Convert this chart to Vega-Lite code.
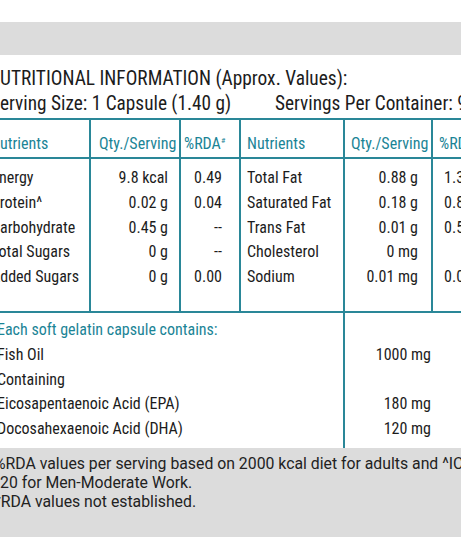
{
  "$schema": "https://vega.github.io/schema/vega-lite/v6.json",
  "width": 461,
  "height": 553,
  "autosize": {"type": "none"},
  "padding": 0,
  "background": "#ffffff",
  "config": {"view": {"stroke": null}, "text": {"font": "Roboto Condensed", "baseline": "alphabetic"}},
  "datasets": {
    "cells": [
      {"r": 2, "c": 0, "t": "NUTRITIONAL INFORMATION (Approx. Values):", "g": "title"},
      {"r": 3, "c": 1, "t": "Serving Size: 1 Capsule (1.40 g)", "g": "sub"},
      {"r": 3, "c": 14, "t": "Servings Per Container: 90", "g": "sub"},
      {"r": 5, "c": 1, "t": "Nutrients", "g": "head"},
      {"r": 5, "c": 7, "t": "Qty./Serving", "g": "head"},
      {"r": 5, "c": 10, "t": "%RDA", "g": "head"},
      {"r": 5, "c": 10, "t": "#", "g": "sup"},
      {"r": 5, "c": 13, "t": "Nutrients", "g": "head"},
      {"r": 5, "c": 16, "t": "Qty./Serving", "g": "head"},
      {"r": 5, "c": 20, "t": "%RDA", "g": "head"},
      {"r": 5, "c": 20, "t": "#", "g": "sup"},
      {"r": 7, "c": 2, "t": "Energy", "g": "left"},
      {"r": 7, "c": 8, "t": "9.8 kcal", "g": "right"},
      {"r": 7, "c": 11, "t": "0.49", "g": "right"},
      {"r": 8, "c": 2, "t": "Protein^", "g": "left"},
      {"r": 8, "c": 8, "t": "0.02 g", "g": "right"},
      {"r": 8, "c": 11, "t": "0.04", "g": "right"},
      {"r": 9, "c": 2, "t": "Carbohydrate", "g": "left"},
      {"r": 9, "c": 8, "t": "0.45 g", "g": "right"},
      {"r": 9, "c": 11, "t": "--", "g": "right"},
      {"r": 10, "c": 2, "t": "Total Sugars", "g": "left"},
      {"r": 10, "c": 8, "t": "0 g", "g": "right"},
      {"r": 10, "c": 11, "t": "--", "g": "right"},
      {"r": 11, "c": 2, "t": "Added Sugars", "g": "left"},
      {"r": 11, "c": 8, "t": "0 g", "g": "right"},
      {"r": 11, "c": 11, "t": "0.00", "g": "right"},
      {"r": 7, "c": 13, "t": "Total Fat", "g": "left"},
      {"r": 7, "c": 17, "t": "0.88 g", "g": "right"},
      {"r": 7, "c": 22, "t": "1.31", "g": "right"},
      {"r": 8, "c": 13, "t": "\u00a0Saturated Fat", "g": "left"},
      {"r": 8, "c": 17, "t": "0.18 g", "g": "right"},
      {"r": 8, "c": 22, "t": "0.82", "g": "right"},
      {"r": 9, "c": 13, "t": "\u00a0Trans Fat", "g": "left"},
      {"r": 9, "c": 17, "t": "0.01 g", "g": "right"},
      {"r": 9, "c": 22, "t": "0.50", "g": "right"},
      {"r": 10, "c": 13, "t": "\u00a0Cholesterol", "g": "left"},
      {"r": 10, "c": 17, "t": "0 mg", "g": "right"},
      {"r": 10, "c": 22, "t": "--", "g": "right"},
      {"r": 11, "c": 13, "t": "Sodium", "g": "left"},
      {"r": 11, "c": 17, "t": "0.01 mg", "g": "right"},
      {"r": 11, "c": 22, "t": "0.00", "g": "right"},
      {"r": 13, "c": 4, "t": "Each soft gelatin capsule contains:", "g": "head"},
      {"r": 14, "c": 4, "t": "Fish Oil", "g": "left"},
      {"r": 14, "c": 18, "t": "1000 mg", "g": "right"},
      {"r": 15, "c": 4, "t": "Containing", "g": "left"},
      {"r": 16, "c": 4, "t": "Eicosapentaenoic Acid (EPA)", "g": "left"},
      {"r": 16, "c": 18, "t": "180 mg", "g": "right"},
      {"r": 17, "c": 4, "t": "Docosahexaenoic Acid (DHA)", "g": "left"},
      {"r": 17, "c": 18, "t": "120 mg", "g": "right"},
      {"r": 19, "c": 3, "t": "%RDA values per serving based on 2000 kcal diet for adults and ^ICMR", "g": "foot"},
      {"r": 20, "c": 5, "t": "20 for Men-Moderate Work.", "g": "foot"},
      {"r": 21, "c": 3, "t": "*RDA values not established.", "g": "foot"}
    ],
    "bands": [
      {"part": "top", "c0": 5, "c1": 21, "r0": 0, "r1": 1},
      {"part": "footnote", "c0": 5, "c1": 21, "r0": 18, "r1": 22}
    ],
    "lines": [
      {"c0": 5, "c1": 21, "r0": 4, "r1": 4},
      {"c0": 5, "c1": 21, "r0": 6, "r1": 6},
      {"c0": 5, "c1": 21, "r0": 12, "r1": 12},
      {"c0": 6, "c1": 6, "r0": 4, "r1": 12},
      {"c0": 9, "c1": 9, "r0": 4, "r1": 12},
      {"c0": 12, "c1": 12, "r0": 4, "r1": 12},
      {"c0": 15, "c1": 15, "r0": 4, "r1": 18},
      {"c0": 19, "c1": 19, "r0": 4, "r1": 12}
    ]
  },
  "encoding": {
    "x": {"field": "c", "type": "quantitative", "axis": null,
      "scale": {"domain": [0, 1, 2, 3, 4, 5, 6, 7, 8, 9, 10, 11, 12, 13, 14, 15, 16, 17, 18, 19, 20, 21, 22],
        "range": [-12, -10, -9, -6, -3, 0, 90, 99, 168, 180, 184, 222, 240, 247, 275, 344, 351, 418, 431, 432, 439, 461, 472],
        "nice": false, "zero": false}},
    "y": {"field": "r", "type": "quantitative", "axis": null,
      "scale": {"domain": [0, 1, 2, 3, 4, 5, 6, 7, 11, 12, 13, 17, 18, 19, 21, 22],
        "range": [22, 55, 85, 110, 119, 149, 158, 183, 282, 312, 335, 434, 448, 469, 507, 537],
        "nice": false, "zero": false}}
  },
  "layer": [
    {
      "data": {"name": "bands"},
      "mark": {"type": "rect", "color": "#dcdcdc"},
      "encoding": {
        "x": {"field": "c0", "type": "quantitative"},
        "x2": {"field": "c1"},
        "y": {"field": "r0", "type": "quantitative"},
        "y2": {"field": "r1"}
      }
    },
    {
      "data": {"name": "lines"},
      "mark": {"type": "rule", "color": "#2a8798", "strokeWidth": 2},
      "encoding": {
        "x": {"field": "c0", "type": "quantitative"},
        "x2": {"field": "c1"},
        "y": {"field": "r0", "type": "quantitative"},
        "y2": {"field": "r1"}
      }
    },
    {
      "data": {"name": "cells"},
      "transform": [{"filter": "datum.g === 'title'"}],
      "mark": {"type": "text", "align": "left", "fontSize": 19.4, "color": "#1c1c1c"},
      "encoding": {"text": {"field": "t"}}
    },
    {
      "data": {"name": "cells"},
      "transform": [{"filter": "datum.g === 'sub'"}],
      "mark": {"type": "text", "align": "left", "fontSize": 19.3, "color": "#1c1c1c"},
      "encoding": {"text": {"field": "t"}}
    },
    {
      "data": {"name": "cells"},
      "transform": [{"filter": "datum.g === 'head'"}],
      "mark": {"type": "text", "align": "left", "fontSize": 16, "color": "#1b8496"},
      "encoding": {"text": {"field": "t"}}
    },
    {
      "data": {"name": "cells"},
      "transform": [{"filter": "datum.g === 'sup'"}],
      "mark": {"type": "text", "align": "left", "fontSize": 8, "dx": 37, "dy": -6, "color": "#1b8496"},
      "encoding": {"text": {"field": "t"}}
    },
    {
      "data": {"name": "cells"},
      "transform": [{"filter": "datum.g === 'left'"}],
      "mark": {"type": "text", "align": "left", "fontSize": 16, "color": "#1c1c1c"},
      "encoding": {"text": {"field": "t"}}
    },
    {
      "data": {"name": "cells"},
      "transform": [{"filter": "datum.g === 'right'"}],
      "mark": {"type": "text", "align": "right", "fontSize": 16, "color": "#1c1c1c"},
      "encoding": {"text": {"field": "t"}}
    },
    {
      "data": {"name": "cells"},
      "transform": [{"filter": "datum.g === 'foot'"}],
      "mark": {"type": "text", "align": "left", "fontSize": 15.8, "font": "Roboto", "color": "#222222"},
      "encoding": {"text": {"field": "t"}}
    }
  ]
}
